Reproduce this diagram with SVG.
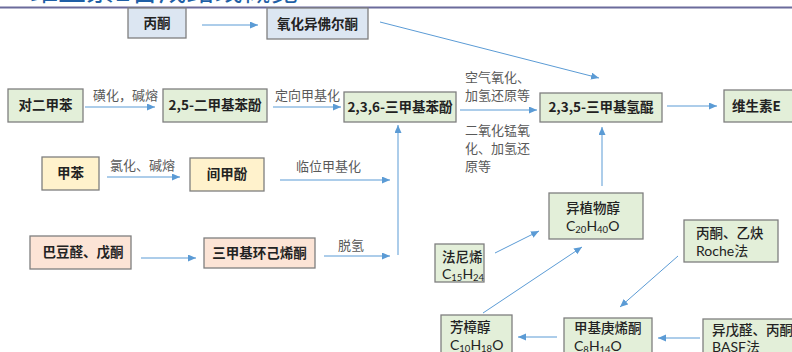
<svg xmlns="http://www.w3.org/2000/svg" width="792" height="352" viewBox="0 0 792 352">
<defs>
<marker id="ah" markerUnits="userSpaceOnUse" markerWidth="9" markerHeight="8" refX="8" refY="3.5" orient="auto">
<path d="M0,0 L8,3.5 L0,7 z" fill="#5b9bd5"/>
</marker>
<style>
.bx{stroke:#7f7f7f;stroke-width:1.3}
.g{fill:#e3efd9}.b{fill:#dce6f2}.y{fill:#fff2cc}.p{fill:#fce4d6}
.t{font-family:"Noto Sans CJK SC","Liberation Sans",sans-serif;font-size:13.5px;font-weight:bold;fill:#222}
.m{font-family:"Noto Sans CJK SC","Liberation Sans",sans-serif;font-size:13.5px;font-weight:500;fill:#222}
.f{font-family:Lato,"Liberation Sans","Noto Sans CJK SC",sans-serif;font-size:14px;fill:#222}
.l{font-family:"Noto Sans CJK SC","Liberation Sans",sans-serif;font-size:13px;fill:#595959}
.c{stroke:#5b9bd5;stroke-width:1;fill:none}
.s{font-size:9.5px}
</style>
</defs>
<rect width="792" height="352" fill="#fff"/>
<text x="30" y="0.5" font-family="Noto Sans CJK SC,sans-serif" font-size="28" fill="#1f5fa6">维生素E合成路线概览</text>
<line x1="0" y1="7.5" x2="792" y2="7.5" stroke="#6b6b9b" stroke-width="2"/>

<g id="connectors">
<line class="c" x1="202" y1="25" x2="258" y2="25" marker-end="url(#ah)"/>
<line class="c" x1="380" y1="22" x2="599" y2="78" stroke="#a9cbea" marker-end="url(#ah)"/>
<line class="c" x1="85" y1="107" x2="155" y2="107" marker-end="url(#ah)"/>
<line class="c" x1="273" y1="107" x2="341" y2="107" marker-end="url(#ah)"/>
<line class="c" x1="460" y1="110" x2="537" y2="110" marker-end="url(#ah)"/>
<line class="c" x1="667" y1="106" x2="717" y2="106" marker-end="url(#ah)"/>
<line class="c" x1="107" y1="177" x2="180" y2="177" marker-end="url(#ah)"/>
<line class="c" x1="280" y1="180" x2="390" y2="180" marker-end="url(#ah)"/>
<line class="c" x1="141" y1="258" x2="196" y2="258" marker-end="url(#ah)"/>
<line class="c" x1="324" y1="256" x2="390" y2="256" marker-end="url(#ah)"/>
<line class="c" x1="398" y1="255" x2="398" y2="125" marker-end="url(#ah)"/>
<line class="c" x1="602" y1="186" x2="602" y2="127" marker-end="url(#ah)"/>
<line class="c" x1="495" y1="253" x2="539" y2="231" marker-end="url(#ah)"/>
<line class="c" x1="483" y1="313" x2="582" y2="247" marker-end="url(#ah)"/>
<line class="c" x1="678" y1="256" x2="620" y2="307" marker-end="url(#ah)"/>
<line class="c" x1="557" y1="337" x2="518" y2="337" marker-end="url(#ah)"/>
<line class="c" x1="700" y1="338" x2="658" y2="338" marker-end="url(#ah)"/>
<text class="l" x="93" y="100">磺化，碱熔</text>
<text class="l" x="275" y="100">定向甲基化</text>
<text class="l" x="465" y="82">空气氧化、</text>
<text class="l" x="465" y="100">加氢还原等</text>
<text class="l" x="465" y="135">二氧化锰氧</text>
<text class="l" x="465" y="153">化、加氢还</text>
<text class="l" x="465" y="171">原等</text>
<text class="l" x="110" y="170">氯化、碱熔</text>
<text class="l" x="296" y="171">临位甲基化</text>
<text class="l" x="338" y="250">脱氢</text>
</g>

<g id="n-bingtong"><rect class="bx b" x="128" y="8" width="58" height="30"/><text class="t" x="157" y="28" text-anchor="middle">丙酮</text></g>
<g id="n-yanghua"><rect class="bx b" x="267" y="8" width="101" height="31"/><text class="t" x="317.5" y="29" text-anchor="middle">氧化异佛尔酮</text></g>
<g id="n-duierjiaben"><rect class="bx g" x="8" y="89" width="75" height="33"/><text class="t" x="45.5" y="110" text-anchor="middle">对二甲苯</text></g>
<g id="n-25"><rect class="bx g" x="163" y="89" width="104" height="33"/><text class="t" x="215" y="110" text-anchor="middle">2,5-二甲基苯酚</text></g>
<g id="n-236"><rect class="bx g" x="344" y="92" width="112" height="30"/><text class="t" x="400" y="112" text-anchor="middle">2,3,6-三甲基苯酚</text></g>
<g id="n-235"><rect class="bx g" x="540" y="93" width="122" height="29"/><text class="t" x="601" y="112" text-anchor="middle">2,3,5-三甲基氢醌</text></g>
<g id="n-vite"><rect class="bx g" x="724" y="90" width="80" height="32"/><text class="t" x="732" y="111">维生素E</text></g>
<g id="n-jiaben"><rect class="bx y" x="42" y="157" width="57" height="33"/><text class="t" x="70.5" y="178" text-anchor="middle">甲苯</text></g>
<g id="n-jianjiafen"><rect class="bx y" x="190" y="158" width="74" height="33"/><text class="t" x="227" y="179" text-anchor="middle">间甲酚</text></g>
<g id="n-badou"><rect class="bx p" x="30" y="236" width="101" height="33"/><text class="t" x="83" y="257" text-anchor="middle">巴豆醛、戊酮</text></g>
<g id="n-sanjia"><rect class="bx p" x="204" y="238" width="111" height="30"/><text class="t" x="259.5" y="258" text-anchor="middle">三甲基环己烯酮</text></g>
<g id="n-yizhiwuchun"><rect class="bx g" x="549" y="193" width="94" height="46"/><text class="m" x="566" y="213">异植物醇</text><text class="f" x="566" y="231">C<tspan class="s" dy="2">20</tspan><tspan dy="-2">H</tspan><tspan class="s" dy="2">40</tspan><tspan dy="-2">O</tspan></text></g>
<g id="n-faniXi"><rect class="bx g" x="435" y="244" width="49" height="38"/><text class="m" x="442" y="262">法尼烯</text><text class="f" x="442" y="279">C<tspan class="s" dy="2">15</tspan><tspan dy="-2">H</tspan><tspan class="s" dy="2">24</tspan></text></g>
<g id="n-roche"><rect class="bx g" x="684" y="220" width="94" height="42"/><text class="m" x="696" y="238">丙酮、乙炔</text><text class="f" x="696" y="256">Roche法</text></g>
<g id="n-fangzhangchun"><rect class="bx g" x="441" y="315" width="71" height="42"/><text class="m" x="450" y="332">芳樟醇</text><text class="f" x="450" y="350">C<tspan class="s" dy="2">10</tspan><tspan dy="-2">H</tspan><tspan class="s" dy="2">18</tspan><tspan dy="-2">O</tspan></text></g>
<g id="n-jiajigengxitong"><rect class="bx g" x="564" y="318" width="88" height="40"/><text class="m" x="574" y="333">甲基庚烯酮</text><text class="f" x="574" y="351">C<tspan class="s" dy="2">8</tspan><tspan dy="-2">H</tspan><tspan class="s" dy="2">14</tspan><tspan dy="-2">O</tspan></text></g>
<g id="n-basf"><rect class="bx g" x="703" y="319" width="100" height="40"/><text class="m" x="712" y="335">异戊醛、丙酮</text><text class="f" x="712" y="352">BASF法</text></g>
</svg>
